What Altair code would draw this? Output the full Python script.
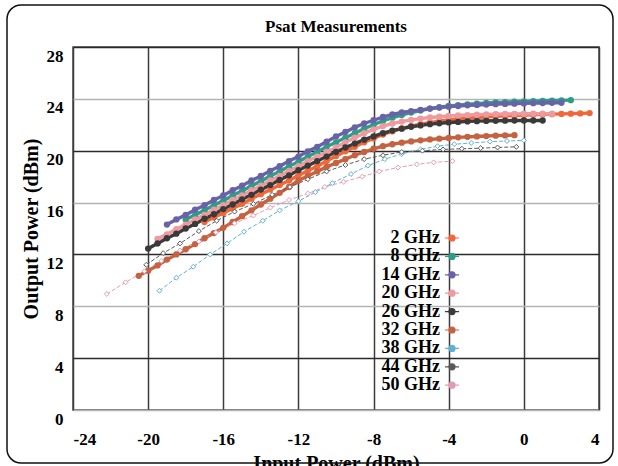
import altair as alt
import pandas as pd

# ---------------- data ----------------
series_names = ["2 GHz", "8 GHz", "14 GHz", "20 GHz", "26 GHz",
                "32 GHz", "38 GHz", "44 GHz", "50 GHz"]

x_2 = [-17.0, -16.5, -16.0, -15.5, -15.0, -14.5, -14.0, -13.5, -13.0, -12.5,
       -12.0, -11.5, -11.0, -10.5, -10.0, -9.5, -9.0, -8.5, -8.0, -7.5,
       -7.0, -6.5, -6.0, -5.5, -5.0, -4.5, -4.0, -3.5, -3.0, -2.5,
       -2.0, -1.5, -1.0, -0.5, 0.0, 0.5, 1.0, 1.5, 2.0, 2.5, 3.0, 3.5]
y_2 = [14.5, 14.85, 15.2, 15.55, 15.9, 16.3, 16.65, 17.0, 17.35, 17.7,
       18.1, 18.45, 18.8, 19.2, 19.6, 19.95, 20.3, 20.65, 20.95, 21.25,
       21.5, 21.72, 21.9, 22.05, 22.17, 22.28, 22.37, 22.43, 22.5, 22.56,
       22.61, 22.65, 22.69, 22.72, 22.75, 22.77, 22.8, 22.82, 22.84, 22.86, 22.88, 22.9]

x_8 = [-18.0, -17.5, -17.0, -16.5, -16.0, -15.5, -15.0, -14.5, -14.0, -13.5,
       -13.0, -12.5, -12.0, -11.5, -11.0, -10.5, -10.0, -9.5, -9.0, -8.5,
       -8.0, -7.5, -7.0, -6.5, -6.0, -5.5, -5.0, -4.5, -4.0, -3.5,
       -3.0, -2.5, -2.0, -1.5, -1.0, -0.5, 0.0, 0.5, 1.0, 1.5, 2.0, 2.5]
y_8 = [14.7, 15.05, 15.4, 15.8, 16.15, 16.55, 16.9, 17.3, 17.65, 18.05,
       18.4, 18.8, 19.15, 19.55, 19.9, 20.3, 20.65, 21.0, 21.35, 21.7,
       22.0, 22.3, 22.55, 22.75, 22.95, 23.1, 23.25, 23.35, 23.45, 23.52,
       23.58, 23.63, 23.68, 23.72, 23.75, 23.78, 23.8, 23.82, 23.85, 23.87, 23.88, 23.9]

x_14 = [-19.0, -18.5, -18.0, -17.5, -17.0, -16.5, -16.0, -15.5, -15.0, -14.5,
        -14.0, -13.5, -13.0, -12.5, -12.0, -11.5, -11.0, -10.5, -10.0, -9.5,
        -9.0, -8.5, -8.0, -7.5, -7.0, -6.5, -6.0, -5.5, -5.0, -4.5,
        -4.0, -3.5, -3.0, -2.5, -2.0, -1.5, -1.0, -0.5, 0.0, 0.5, 1.0, 1.5, 2.0]
y_14 = [14.3, 14.7, 15.05, 15.45, 15.8, 16.2, 16.55, 16.95, 17.3, 17.7,
        18.05, 18.45, 18.8, 19.2, 19.55, 19.95, 20.3, 20.7, 21.1, 21.45,
        21.8, 22.1, 22.35, 22.6, 22.8, 22.95, 23.05, 23.15, 23.25, 23.33,
        23.4, 23.45, 23.5, 23.53, 23.56, 23.59, 23.61, 23.63, 23.65, 23.67, 23.68, 23.7, 23.7]

x_20 = [-19.5, -19.0, -18.5, -18.0, -17.5, -17.0, -16.5, -16.0, -15.5, -15.0,
        -14.5, -14.0, -13.5, -13.0, -12.5, -12.0, -11.5, -11.0, -10.5, -10.0,
        -9.5, -9.0, -8.5, -8.0, -7.5, -7.0, -6.5, -6.0, -5.5, -5.0,
        -4.5, -4.0, -3.5, -3.0, -2.5, -2.0, -1.5, -1.0, -0.5, 0.0, 0.5, 1.0, 1.5]
y_20 = [13.2, 13.55, 13.95, 14.3, 14.7, 15.05, 15.45, 15.8, 16.2, 16.55,
        16.95, 17.3, 17.7, 18.05, 18.45, 18.8, 19.2, 19.55, 19.9, 20.25,
        20.65, 21.0, 21.35, 21.65, 21.9, 22.1, 22.25, 22.38, 22.48, 22.56,
        22.62, 22.68, 22.72, 22.75, 22.78, 22.8, 22.82, 22.83, 22.84, 22.85, 22.85, 22.85, 22.85]

x_26 = [-20.0, -19.5, -19.0, -18.5, -18.0, -17.5, -17.0, -16.5, -16.0, -15.5,
        -15.0, -14.5, -14.0, -13.5, -13.0, -12.5, -12.0, -11.5, -11.0, -10.5,
        -10.0, -9.5, -9.0, -8.5, -8.0, -7.5, -7.0, -6.5, -6.0, -5.5,
        -5.0, -4.5, -4.0, -3.5, -3.0, -2.5, -2.0, -1.5, -1.0, -0.5, 0.0, 0.5, 1.0]
y_26 = [12.45, 12.85, 13.25, 13.6, 14.0, 14.35, 14.75, 15.1, 15.5, 15.85,
        16.25, 16.6, 17.0, 17.35, 17.75, 18.1, 18.5, 18.85, 19.2, 19.55,
        19.9, 20.25, 20.55, 20.85, 21.1, 21.35, 21.55, 21.7, 21.85, 21.95,
        22.05, 22.12, 22.18, 22.22, 22.26, 22.28, 22.3, 22.31, 22.32, 22.33, 22.33, 22.33, 22.33]

x_32 = [-20.5, -20.0, -19.5, -19.0, -18.5, -18.0, -17.5, -17.0, -16.5, -16.0,
        -15.5, -15.0, -14.5, -14.0, -13.5, -13.0, -12.5, -12.0, -11.5, -11.0,
        -10.5, -10.0, -9.5, -9.0, -8.5, -8.0, -7.5, -7.0, -6.5, -6.0,
        -5.5, -5.0, -4.5, -4.0, -3.5, -3.0, -2.5, -2.0, -1.5, -1.0, -0.5]
y_32 = [10.35, 10.75, 11.15, 11.6, 12.0, 12.4, 12.8, 13.25, 13.65, 14.05,
        14.5, 14.95, 15.4, 15.85, 16.3, 16.75, 17.2, 17.7, 18.05, 18.4,
        18.75, 19.05, 19.35, 19.65, 19.9, 20.15, 20.35, 20.5, 20.62, 20.72,
        20.8, 20.87, 20.93, 20.98, 21.03, 21.07, 21.1, 21.13, 21.16, 21.18, 21.2]

x_38 = [-19.4, -18.5, -17.6, -16.7, -15.8, -14.9, -13.9, -13.0, -12.0, -11.1, -10.2,
        -9.2, -8.3, -7.4, -6.5, -5.5, -4.6, -3.7, -2.8, -1.8, -0.9, 0.0]
y_38 = [9.2, 10.2, 11.05, 12.0, 12.85, 13.75, 14.6, 15.4, 16.1, 16.8, 17.5,
        18.2, 18.85, 19.35, 19.75, 20.1, 20.35, 20.5, 20.6, 20.7, 20.75, 20.8]

x_44 = [-20.1, -19.2, -18.3, -17.3, -16.35, -15.4, -14.4, -13.4, -12.45, -11.5, -10.5,
        -9.5, -8.5, -7.5, -6.5, -5.4, -4.3, -3.3, -2.3, -1.4, -0.4]
y_44 = [11.2, 12.1, 12.85, 13.8, 14.6, 15.3, 15.9, 16.6, 17.2, 17.8, 18.4,
        18.9, 19.35, 19.65, 19.9, 20.0, 20.1, 20.15, 20.2, 20.25, 20.3]

x_50 = [-22.2, -21.2, -20.2, -19.3, -18.3, -17.3, -16.4, -15.4, -14.4, -13.5,
        -12.5, -11.5, -10.6, -9.6, -8.6, -7.7, -6.7, -5.7, -4.8, -3.8]
y_50 = [8.95, 9.85, 10.7, 11.5, 12.3, 13.0, 13.7, 14.4, 15.0, 15.6,
        16.2, 16.7, 17.2, 17.6, 18.0, 18.4, 18.7, 18.95, 19.1, 19.2]

x_ticks = [-24, -20, -16, -12, -8, -4, 0, 4]
y_ticks = [0, 4, 8, 12, 16, 20, 24, 28]

# ---------------- styling ----------------
colors = ["#f2673a", "#2e9c86", "#6962a8", "#ef9a9e", "#3a3a3a",
          "#c5623f", "#62b0cf", "#5a5a5a", "#e39ab6"]
# legend glyph: short line with a marker on it
LEG_CIRCLE = "M-2.1,0H2.1M0.9,0A0.9,0.9 0 1 1 -0.9,0A0.9,0.9 0 1 1 0.9,0Z"
SERIF = "Liberation Serif"

all_x = [x_2, x_8, x_14, x_20, x_26, x_32, x_38, x_44, x_50]
all_y = [y_2, y_8, y_14, y_20, y_26, y_32, y_38, y_44, y_50]
frames = []
for i, (name, xs, ys) in enumerate(zip(series_names, all_x, all_y)):
    frames.append(pd.DataFrame({"x": xs, "y": ys, "series": name, "k": i}))
df = pd.concat(frames, ignore_index=True)
solid = df[df["k"] < 6]
dashed = df[df["k"] >= 6]

color_scale = alt.Scale(domain=series_names, range=colors)

x_enc = alt.X("x:Q", scale=alt.Scale(domain=[-24, 4], nice=False, zero=False),
              axis=alt.Axis(values=x_ticks, title="Input Power (dBm)", ticks=False,
                            labelPadding=21, titlePadding=6,
                            labelExpr="'' + datum.value",
                            gridColor="#3c3c3c", gridWidth=1.5))
y_enc = alt.Y("y:Q", scale=alt.Scale(domain=[0, 28], nice=False),
              axis=alt.Axis(values=y_ticks, title="Output Power (dBm)", ticks=False,
                            labelPadding=10, labelOffset=9, titlePadding=5,
                            labelExpr="'' + datum.value",
                            gridWidth=1.5,
                            gridColor={"condition": {"test": "datum.value % 8 === 0",
                                                     "value": "#b4b4b4"},
                                       "value": "#2a2a2a"}))

legend = alt.Legend(title=None, orient="none", legendX=370, legendY=182,
                    labelAlign="right", labelOffset={"expr": "-21"},
                    labelBaseline="middle",
                    labelFont=SERIF, labelFontWeight="bold",
                    labelFontSize=18, labelColor="black",
                    symbolSize=45, rowPadding=0.4, padding=0,
                    symbolType=LEG_CIRCLE, symbolStrokeWidth=1.2)

lines_solid = alt.Chart(solid).mark_line(strokeWidth=3.4).encode(
    x=x_enc, y=y_enc,
    color=alt.Color("series:N", scale=color_scale, legend=None),
    detail="series:N",
)
lines_dashed = alt.Chart(dashed).mark_line(strokeWidth=1, strokeDash=[4, 2]).encode(
    x=x_enc, y=y_enc,
    color=alt.Color("series:N", scale=color_scale, legend=None),
    detail="series:N",
)
pts_solid = alt.Chart(solid).mark_point(filled=True, size=40, opacity=1,
                                        shape="circle").encode(
    x=x_enc, y=y_enc,
    color=alt.Color("series:N", scale=color_scale, legend=legend),
)
pts_dashed = alt.Chart(dashed).mark_point(filled=False, fill="white", size=24,
                                          shape="diamond",
                                          strokeWidth=1, opacity=1).encode(
    x=x_enc, y=y_enc,
    color=alt.Color("series:N", scale=color_scale, legend=None),
)

frame = alt.Chart(pd.DataFrame({"a": [0]})).mark_rect(
    fillOpacity=0, stroke="#111111", strokeWidth=1.5, cornerRadius=14
).encode(x=alt.value(-66), x2=alt.value(540), y=alt.value(-42), y2=alt.value(416))

chart = alt.layer(lines_solid, lines_dashed, pts_solid, pts_dashed, frame).resolve_legend(
    color="independent"
).properties(
    width=526, height=363,
    padding={"left": 73, "top": 47, "right": 19, "bottom": 56},
    autosize=alt.AutoSizeParams(type="none"),
    background="white",
    title=alt.TitleParams("Psat Measurements", font=SERIF, fontSize=17,
                          fontWeight="bold", anchor="middle", offset=12, dy=44,
                          color="black"),
).configure_axis(
    labelFont=SERIF, labelFontWeight="bold", labelFontSize=17, labelColor="black",
    titleFont=SERIF, titleFontWeight="bold", titleFontSize=20, titleColor="black",
    domain=False, grid=True,
).configure_legend(
    symbolStrokeColor={"expr": "scale('color', datum.value)"}
).configure_view(stroke="#4a4a4a", strokeWidth=1.5)

chart.save("out.html", embed_options={"renderer": "svg", "actions": False})
